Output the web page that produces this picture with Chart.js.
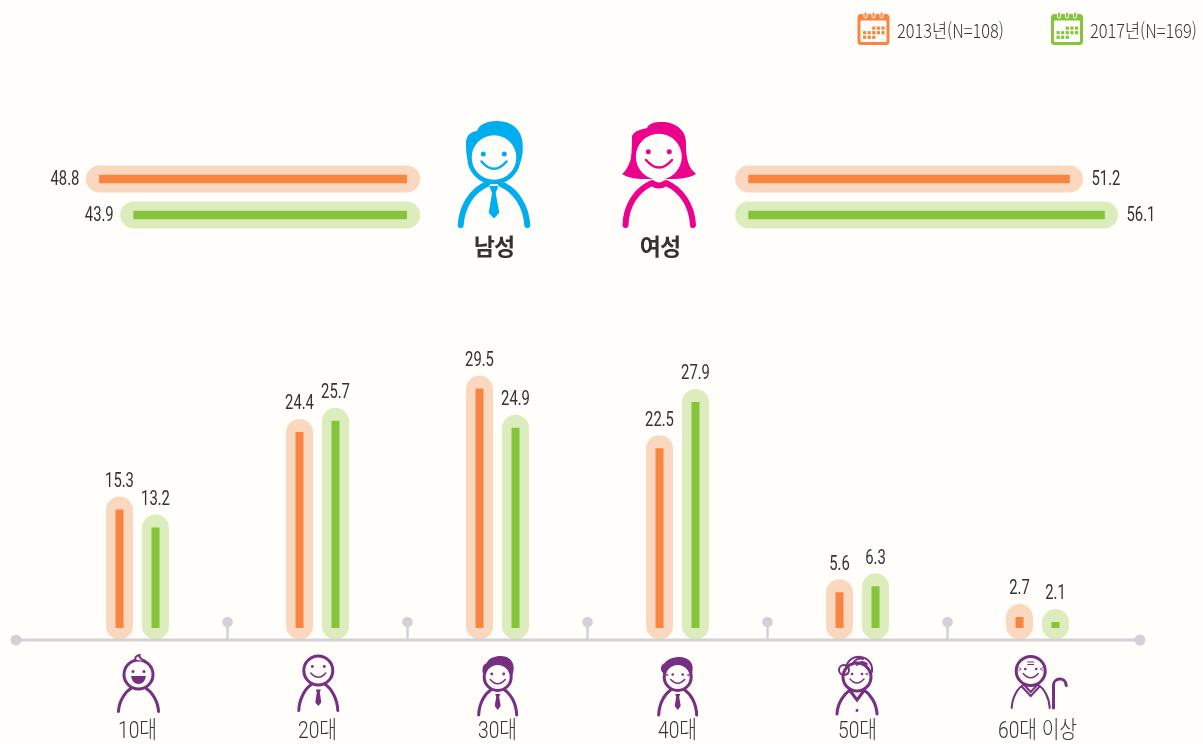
<!DOCTYPE html>
<html lang="ko">
<head>
<meta charset="utf-8">
<title>성별 연령별 응답자</title>
<script src="https://cdn.jsdelivr.net/npm/chart.js@4/dist/chart.umd.min.js"></script>
<style>
  html, body { margin: 0; padding: 0; background: #FFFEFA; }
  #page { position: relative; width: 1203px; height: 744px; overflow: hidden; background: #FFFEFA; }
  #page canvas { position: absolute; }
  #art { position: absolute; left: 0; top: 0; }
  .legend-text {
    position: absolute; top: 17px; height: 26px; line-height: 26px; font-size: 19px; color: #333; white-space: nowrap;
    font-family: "Noto Sans CJK KR", sans-serif; font-weight: 300; transform: scaleX(0.86); transform-origin: left center;
  }
  .gender {
    position: absolute; top: 229px; width: 80px; text-align: center; font-size: 23px; line-height: 32px; color: #333;
    font-family: "Noto Sans CJK KR", sans-serif; font-weight: 700; letter-spacing: -1px;
  }
</style>
</head>
<body>
<div id="page">
  <canvas id="menChart" width="441" height="72" style="left:0;top:161px"></canvas>
  <canvas id="womenChart" width="499" height="72" style="left:704px;top:161px"></canvas>
  <canvas id="ageChart" width="1203" height="411" style="left:0;top:333px"></canvas>

  <svg id="art" width="1203" height="744" viewBox="0 0 1203 744">
    <!-- legend calendars -->
    <g id="calOrange"></g>
    <g id="calGreen"></g>

    <!-- man -->
    <path fill="#00AEEF" d="M466 147 C465 137 469 132 477 131 C479 124 488 121 497 121 C510 121 521 128 522.500 142 C523 150 523 156 520 163 L470 165 C467 160 466 153 466 147Z"/>
    <circle cx="494" cy="157.500" r="24.500" fill="#FFFEFA" stroke="#00AEEF" stroke-width="4.500"/>
    <circle cx="483.300" cy="154" r="2.500" fill="#00AEEF"/>
    <circle cx="504.300" cy="154" r="2.500" fill="#00AEEF"/>
    <path d="M481.500 161.500 Q494 176 506.500 161.500" fill="none" stroke="#00AEEF" stroke-width="2.500" stroke-linecap="round"/>
    <path d="M460.700 225 C462 207 471 191 487 184 M527.300 225 C526 207 517 191 501 184" fill="none" stroke="#00AEEF" stroke-width="6" stroke-linecap="round"/>
    <path fill="#00AEEF" d="M489.300 186 L498.300 186 L495.700 193.300 L499.300 212.700 L494 218.500 L488.700 212.700 L492 193.300Z"/>

    <!-- woman -->
    <path fill="#EC008C" d="M632 136 C635 130 643 129 647 128 C649 123 655 122 662 122 C675 122 686 130 686 142 C686 150 686 158 690 167 C692 171 695 172 696 174 C690 178 680 179 672 179 L644 179 C636 179 628 178 622 174 C625 172 629 166 631 158 C632 150 632 142 632 136Z"/>
    <circle cx="658.800" cy="156.700" r="23" fill="#FFFEFA"/>
    <circle cx="648.300" cy="151.700" r="2.500" fill="#EC008C"/>
    <circle cx="669.300" cy="151.700" r="2.500" fill="#EC008C"/>
    <path d="M646 160 Q659 175 672 160" fill="none" stroke="#EC008C" stroke-width="2.500" stroke-linecap="round"/>
    <path d="M625.500 225 C626 206 636 190 652 183 Q659 188 666 183 C682 190 692 206 693 225" fill="none" stroke="#EC008C" stroke-width="6" stroke-linecap="round" stroke-linejoin="round"/>

    <!-- age icons -->
    <g fill="none" stroke="#772F81" stroke-width="3" stroke-linecap="round">
      <!-- 10대 -->
      <g transform="translate(138.500,674.500)">
        <circle r="14.500"/>
        <path d="M-3 -15 C-4 -17 -2 -19 1 -19.500 C0 -17 3 -15 7 -13" fill="#FFFEFA" stroke-width="2"/>
        <path d="M-20 37 C-19.500 26 -13 17 -7 13.500 M20 37 C19.500 26 13 17 7 13.500"/>
        <circle cx="-5.500" cy="-3" r="1.500" fill="#772F81" stroke="none"/>
        <circle cx="5.500" cy="-3" r="1.500" fill="#772F81" stroke="none"/>
        <path d="M-7.500 1.500 H7.500 Q6 9.500 0 9.500 Q-6 9.500 -7.500 1.500Z" fill="#772F81" stroke="none"/>
      </g>
      <!-- 20대 -->
      <g transform="translate(318.300,670.500)">
        <circle r="14.500"/>
        <path d="M-19.500 40 C-19 28 -13 18 -7 14 M19.500 40 C19 28 13 18 7 14"/>
        <circle cx="-6" cy="-4" r="1.400" fill="#772F81" stroke="none"/>
        <circle cx="6" cy="-4" r="1.400" fill="#772F81" stroke="none"/>
        <path d="M-7.500 2.500 Q0 11 7.500 2.500" stroke-width="1.500"/>
        <path d="M-2.500 19 H2.500 L1.500 22 L3 32 L0 35.500 L-3 32 L-1.500 22Z" fill="#772F81" stroke="none"/>
      </g>
      <!-- 30대 -->
      <g transform="translate(497.700,677)">
        <path d="M-15 -4 C-16 -10 -14 -13 -11 -14 C-9 -19 -3 -21 3 -21 C11 -21 16 -16 16 -9 C16 -6 15 -3 14 0Z" fill="#772F81" stroke="none"/>
        <circle r="13.500" fill="#FFFEFA"/>
        <path d="M-19 38 C-18.500 26 -13 17 -7 13 M19 38 C18.500 26 13 17 7 13"/>
        <circle cx="-6" cy="-3" r="1.400" fill="#772F81" stroke="none"/>
        <circle cx="6" cy="-3" r="1.400" fill="#772F81" stroke="none"/>
        <path d="M-7.500 2.500 Q0 11 7.500 2.500" stroke-width="1.500"/>
        <path d="M-2.500 17 H2.500 L1.500 20 L3 29 L0 33 L-3 29 L-1.500 20Z" fill="#772F81" stroke="none"/>
      </g>
      <!-- 40대 -->
      <g transform="translate(677.700,677)">
        <path d="M-13 -3 C-18 -5 -18 -12 -13 -14 C-10 -18 -4 -20 2 -20 C10 -20 15 -15 15 -9 L14 2Z" fill="#772F81" stroke="none"/>
        <circle r="13.500" fill="#FFFEFA"/>
        <path d="M-19 38 C-18.500 26 -13 17 -7 13 M19 38 C18.500 26 13 17 7 13"/>
        <circle cx="-5" cy="-2.500" r="1.300" fill="#772F81" stroke="none"/>
        <circle cx="5" cy="-2.500" r="1.300" fill="#772F81" stroke="none"/>
        <path d="M-12 -3 L-9.500 -2 L-12 -1 M12 -3 L9.500 -2 L12 -1" stroke-width="0.800"/>
        <path d="M-7 2.500 Q0 10 7 2.500" stroke-width="1.500"/>
        <path d="M-2.500 17 H2.500 L1.500 20 L3 29 L0 33 L-3 29 L-1.500 20Z" fill="#772F81" stroke="none"/>
      </g>
      <!-- 50대 -->
      <g transform="translate(857,677)">
        <circle r="14"/>
        <circle cx="-13" cy="-7" r="5" stroke-width="2"/>
        <path d="M-11 -10 C-9 -18 -2 -21 4 -20 C11 -19 16 -13 15 -5 M-4 -14 C-1 -18 3 -19 6 -18 M0 -12 C3 -16 7 -15 10 -13" stroke-width="2"/>
        <path d="M-20 37 C-19.500 26 -13 17 -7 13 M20 37 C19.500 26 13 17 7 13 M-6 15 L0 23 L6 15" />
        <circle cx="-5" cy="-3" r="1.300" fill="#772F81" stroke="none"/>
        <circle cx="5" cy="-3" r="1.300" fill="#772F81" stroke="none"/>
        <path d="M-11 -4 L-8.500 -3 L-11 -2 M11 -4 L8.500 -3 L11 -2" stroke-width="0.800"/>
        <path d="M-7 2 Q0 10 7 2" stroke-width="1.500"/>
        <circle cy="33.500" r="1.400" fill="#772F81" stroke="none"/>
      </g>
      <!-- 60대 이상 -->
      <g transform="translate(1030.700,671)">
        <circle r="14.500"/>
        <path d="M-3 -9 H3 M-3 -6.500 H3" stroke-width="1"/>
        <path d="M-19 37 C-18.500 26 -13 17 -7 13.500 M19 37 C18.500 26 13 17 7 13.500 M-8.500 16 L0 25 L8.500 16 M-6.500 14 L0 21 L6.500 14" stroke-width="2"/>
        <circle cx="-5.500" cy="-2" r="1.300" fill="#772F81" stroke="none"/>
        <circle cx="5.500" cy="-2" r="1.300" fill="#772F81" stroke="none"/>
        <path d="M-12 -3.500 L-9.500 -2 L-12 -0.500 M12 -3.500 L9.500 -2 L12 -0.500" stroke-width="0.800"/>
        <path d="M-7.500 2.500 Q0 11 7.500 2.500" stroke-width="1.500"/>
        <path d="M22.800 37 V14 C22.800 7 34.800 5 35.500 14.500"/>
      </g>
    </g>
  </svg>

  <div class="legend-text" style="left:897px">2013년(N=108)</div>
  <div class="legend-text" style="left:1090px">2017년(N=169)</div>
  <div class="gender" style="left:454px">남성</div>
  <div class="gender" style="left:620px">여성</div>
</div>

<script>
const years = ['2013년', '2017년'];
const menShare = [48.8, 43.9];
const womenShare = [51.2, 56.1];

const ageGroups = ['10대', '20대', '30대', '40대', '50대', '60대 이상'];
const age2013 = [15.3, 24.4, 29.5, 22.5, 5.6, 2.7];
const age2017 = [13.2, 25.7, 24.9, 27.9, 6.3, 2.1];

const ORANGE = '#F98543';
const GREEN = '#86C43C';
const ORANGE_HALO = '#FAD8BF';
const GREEN_HALO = '#DCECBC';
const TEXT = '#333333';
const AXIS = '#D1D2D5';
const NUM_FONT = '19.5px Roboto, "Noto Sans CJK KR", sans-serif';
const TICK_FONT = '300 24px Roboto, "Noto Sans CJK KR", sans-serif';

// no condensed face is installed, so squeeze the text horizontally
function narrowText(ctx, text, x, y, align, squeeze) {
  ctx.save();
  ctx.translate(x, y);
  ctx.scale(squeeze, 1);
  ctx.textAlign = align;
  ctx.textBaseline = 'middle';
  ctx.fillText(text, 0, 0);
  ctx.restore();
}

// pale pill behind each bar + value label, both taken from the bar elements
const pillPlugin = {
  id: 'pill',
  beforeDatasetsDraw(chart) {
    const ctx = chart.ctx;
    chart.data.datasets.forEach((ds, d) => {
      chart.getDatasetMeta(d).data.forEach((bar, i) => {
        const halo = Array.isArray(ds.haloColor) ? ds.haloColor[i] : ds.haloColor;
        ctx.fillStyle = halo;
        ctx.beginPath();
        if (chart.options.indexAxis === 'y') {
          const a = Math.min(bar.x, bar.base) - 13.5;
          const b = Math.max(bar.x, bar.base) + 13.5;
          ctx.roundRect(a, bar.y - 13.5, b - a, 27, 13.5);
        } else {
          const bottom = chart.scales.y.getPixelForValue(0) - 0.5;
          ctx.roundRect(bar.x - 13.5, bar.y - 13, 27, bottom - bar.y + 13, 13.5);
        }
        ctx.fill();
      });
    });
  },
  afterDatasetsDraw(chart) {
    const ctx = chart.ctx;
    ctx.font = NUM_FONT;
    ctx.fillStyle = TEXT;
    chart.data.datasets.forEach((ds, d) => {
      chart.getDatasetMeta(d).data.forEach((bar, i) => {
        const label = ds.data[i].toFixed(1);
        if (chart.options.indexAxis === 'y') {
          const left = bar.x < bar.base;
          narrowText(ctx, label, bar.x + (left ? -20 : 22), bar.y + 1, left ? 'right' : 'left', 0.76);
        } else {
          narrowText(ctx, label, bar.x, bar.y - 27.5, 'center', 0.76);
        }
      });
    });
  }
};

// baseline with end dots, the little pins between the age groups, and age labels
const baselinePlugin = {
  id: 'baseline',
  afterDatasetsDraw(chart) {
    const ctx = chart.ctx;
    const x = chart.scales.x;
    const y0 = chart.scales.y.getPixelForValue(0);
    ctx.strokeStyle = AXIS;
    ctx.fillStyle = AXIS;
    ctx.lineWidth = 3;
    ctx.beginPath();
    ctx.moveTo(16, y0);
    ctx.lineTo(1140, y0);
    ctx.stroke();
    [16, 1140].forEach(px => {
      ctx.beginPath();
      ctx.arc(px, y0, 5.5, 0, Math.PI * 2);
      ctx.fill();
    });
    ctx.lineWidth = 2.5;
    for (let i = 0; i < ageGroups.length - 1; i++) {
      const px = (x.getPixelForTick(i) + x.getPixelForTick(i + 1)) / 2;
      ctx.beginPath();
      ctx.moveTo(px, y0);
      ctx.lineTo(px, y0 - 18);
      ctx.stroke();
      ctx.beginPath();
      ctx.arc(px, y0 - 18, 5.3, 0, Math.PI * 2);
      ctx.fill();
    }
    ctx.font = TICK_FONT;
    ctx.fillStyle = TEXT;
    ageGroups.forEach((name, i) => {
      narrowText(ctx, name, x.getPixelForTick(i), y0 + 92, 'center', 0.8);
    });
  }
};

function genderChart(id, values, maxValue, baseValue, reversed) {
  return new Chart(document.getElementById(id), {
    type: 'bar',
    plugins: [pillPlugin],
    data: {
      labels: years,
      datasets: [{
        data: values,
        base: baseValue,
        backgroundColor: [ORANGE, GREEN],
        haloColor: [ORANGE_HALO, GREEN_HALO],
        barThickness: 8,
        borderSkipped: false
      }]
    },
    options: {
      indexAxis: 'y',
      responsive: false,
      animation: false,
      layout: { padding: 0 },
      plugins: { legend: { display: false }, tooltip: { enabled: false } },
      scales: {
        x: { display: false, reverse: reversed, min: 0, max: maxValue },
        y: { display: false }
      }
    }
  });
}

genderChart('menChart', menShare, 63, 4.9, true);
genderChart('womenChart', womenShare, 69.9, 6.25, false);

new Chart(document.getElementById('ageChart'), {
  type: 'bar',
  plugins: [pillPlugin, baselinePlugin],
  data: {
    labels: ageGroups,
    datasets: [
      { label: years[0], data: age2013, base: 1.4, backgroundColor: ORANGE, haloColor: ORANGE_HALO, categoryPercentage: 0.4, barPercentage: 0.2222 },
      { label: years[1], data: age2017, base: 1.4, backgroundColor: GREEN, haloColor: GREEN_HALO, categoryPercentage: 0.4, barPercentage: 0.2222 }
    ]
  },
  options: {
    responsive: false,
    animation: false,
    layout: { padding: { left: 47.5, right: 75.5, top: 0, bottom: 0 } },
    plugins: { legend: { display: false }, tooltip: { enabled: false } },
    scales: {
      x: {
        grid: { display: false },
        border: { display: false },
        afterFit(scale) { scale.height = 104; },
        ticks: { display: false }
      },
      y: { display: false, min: 0, max: 36 }
    }
  }
});

// legend calendar icons
function drawCalendar(id, x, color) {
  const g = document.getElementById(id);
  let s = `<rect x="${x}" y="14" width="32" height="31" rx="3.500" fill="${color}"/>`;
  s += `<rect x="${x + 3}" y="20.500" width="26" height="21.500" rx="1" fill="#FFFEFA"/>`;
  [8, 16, 24].forEach(dx => {
    s += `<rect x="${x + dx - 1.500}" y="12" width="3" height="6" rx="1.500" fill="${color}" stroke="#FFFEFA" stroke-width="1"/>`;
  });
  for (let r = 0; r < 3; r++) {
    for (let c = 0; c < 5; c++) {
      if ((r === 0 && c < 2) || (r === 2 && c > 2)) continue;
      s += `<rect x="${x + 5.5 + c * 4.600}" y="${26.5 + r * 4.600}" width="3.200" height="3.200" fill="${color}"/>`;
    }
  }
  g.innerHTML = s;
}
drawCalendar('calOrange', 857.500, ORANGE);
drawCalendar('calGreen', 1051, GREEN);
</script>
</body>
</html>
